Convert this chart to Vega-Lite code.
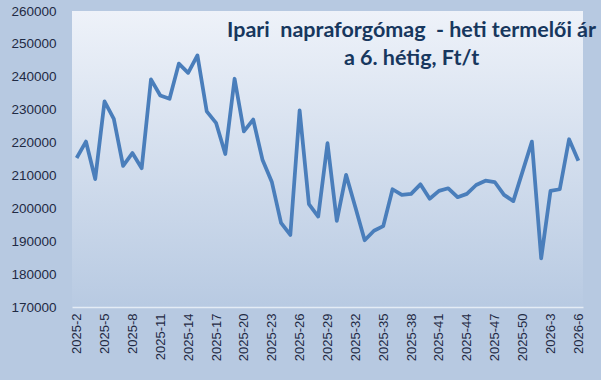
{
  "$schema": "https://vega.github.io/schema/vega-lite/v6.json",
  "width": 511,
  "height": 296,
  "autosize": {"type": "none"},
  "padding": {"left": 72, "top": 11, "right": 18, "bottom": 73},
  "background": "#b7c9e1",
  "title": {
    "text": ["Ipari\u00a0 napraforgómag\u00a0 - heti termelői ár", "a 6. hétig, Ft/t"],
    "font": "Lato",
    "fontSize": 21.5,
    "fontWeight": "bold",
    "color": "#17375E",
    "anchor": "middle",
    "baseline": "top",
    "lineHeight": 28,
    "dx": 84,
    "dy": 69
  },
  "config": {
    "view": {
      "stroke": null,
      "fill": {
        "gradient": "linear",
        "x1": 0, "y1": 0, "x2": 0, "y2": 1,
        "stops": [
          {"offset": 0, "color": "#eef2f9"},
          {"offset": 1, "color": "#b8cae2"}
        ]
      }
    }
  },
  "data": {
    "values": [
      {"week": "2025-2", "price": 215300},
      {"week": "2025-3", "price": 220300},
      {"week": "2025-4", "price": 208900},
      {"week": "2025-5", "price": 232500},
      {"week": "2025-6", "price": 227200},
      {"week": "2025-7", "price": 212900},
      {"week": "2025-8", "price": 216800},
      {"week": "2025-9", "price": 212200},
      {"week": "2025-10", "price": 239200},
      {"week": "2025-11", "price": 234300},
      {"week": "2025-12", "price": 233300},
      {"week": "2025-13", "price": 244000},
      {"week": "2025-14", "price": 241200},
      {"week": "2025-15", "price": 246500},
      {"week": "2025-16", "price": 229500},
      {"week": "2025-17", "price": 226000},
      {"week": "2025-18", "price": 216500},
      {"week": "2025-19", "price": 239400},
      {"week": "2025-20", "price": 223400},
      {"week": "2025-21", "price": 227000},
      {"week": "2025-22", "price": 214800},
      {"week": "2025-23", "price": 208100},
      {"week": "2025-24", "price": 195600},
      {"week": "2025-25", "price": 191900},
      {"week": "2025-26", "price": 229800},
      {"week": "2025-27", "price": 201300},
      {"week": "2025-28", "price": 197500},
      {"week": "2025-29", "price": 219800},
      {"week": "2025-30", "price": 196200},
      {"week": "2025-31", "price": 210200},
      {"week": "2025-32", "price": 200300},
      {"week": "2025-33", "price": 190300},
      {"week": "2025-34", "price": 193200},
      {"week": "2025-35", "price": 194600},
      {"week": "2025-36", "price": 205800},
      {"week": "2025-37", "price": 204100},
      {"week": "2025-38", "price": 204400},
      {"week": "2025-39", "price": 207300},
      {"week": "2025-40", "price": 202900},
      {"week": "2025-41", "price": 205300},
      {"week": "2025-42", "price": 206100},
      {"week": "2025-43", "price": 203400},
      {"week": "2025-44", "price": 204400},
      {"week": "2025-45", "price": 207100},
      {"week": "2025-46", "price": 208400},
      {"week": "2025-47", "price": 208000},
      {"week": "2025-48", "price": 204100},
      {"week": "2025-49", "price": 202200},
      {"week": "2025-50", "price": null},
      {"week": "2025-51", "price": 220300},
      {"week": "2025-52", "price": 184800},
      {"week": "2026-3", "price": 205300},
      {"week": "2026-4", "price": 205800},
      {"week": "2026-5", "price": 221000},
      {"week": "2026-6", "price": 214500}
    ]
  },
  "mark": {"type": "line", "color": "#4A7EBB", "strokeWidth": 3.75, "invalid": "filter", "strokeJoin": "round"},
  "encoding": {
    "x": {
      "field": "week",
      "type": "ordinal",
      "sort": null,
      "scale": {"domain": ["2025-2","2025-3","2025-4","2025-5","2025-6","2025-7","2025-8","2025-9","2025-10","2025-11","2025-12","2025-13","2025-14","2025-15","2025-16","2025-17","2025-18","2025-19","2025-20","2025-21","2025-22","2025-23","2025-24","2025-25","2025-26","2025-27","2025-28","2025-29","2025-30","2025-31","2025-32","2025-33","2025-34","2025-35","2025-36","2025-37","2025-38","2025-39","2025-40","2025-41","2025-42","2025-43","2025-44","2025-45","2025-46","2025-47","2025-48","2025-49","2025-50","2025-51","2025-52","2026-3","2026-4","2026-5","2026-6"], "type": "point", "padding": 0.5},
      "axis": {
        "title": null,
        "values": ["2025-2","2025-5","2025-8","2025-11","2025-14","2025-17","2025-20","2025-23","2025-26","2025-29","2025-32","2025-35","2025-38","2025-41","2025-44","2025-47","2025-50","2026-3","2026-6"],
        "labelAngle": -90,
        "labelAlign": "right",
        "labelBaseline": "middle",
        "labelFont": "Liberation Sans",
        "labelFontSize": 13,
        "labelColor": "#1F2A44",
        "labelPadding": 6,
        "ticks": false,
        "tickSize": 0,
        "domainColor": "#E4ECF5",
        "domainWidth": 1.5,
        "grid": false,
        "labelOverlap": false
      }
    },
    "y": {
      "field": "price",
      "type": "quantitative",
      "scale": {"domain": [170000, 260000], "zero": false, "nice": false},
      "axis": {
        "title": null,
        "values": [170000,180000,190000,200000,210000,220000,230000,240000,250000,260000],
        "format": "d",
        "labelFont": "Liberation Sans",
        "labelFontSize": 13.5,
        "labelColor": "#1F2A44",
        "labelPadding": 16,
        "ticks": false,
        "tickSize": 0,
        "domain": false,
        "grid": false
      }
    }
  }
}
